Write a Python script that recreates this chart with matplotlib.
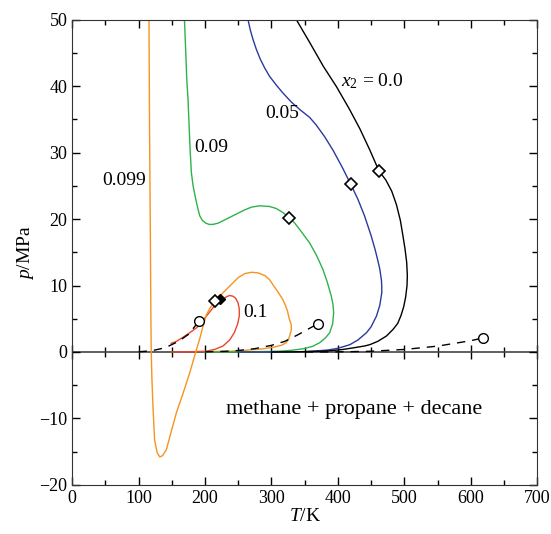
import numpy as np
import matplotlib
matplotlib.use("Agg")
import matplotlib.pyplot as plt

plt.rcParams['font.family'] = ['Liberation Serif', 'DejaVu Serif']
plt.rcParams['mathtext.fontset'] = 'custom'
plt.rcParams['mathtext.it'] = 'Liberation Serif:italic'
plt.rcParams['mathtext.rm'] = 'Liberation Serif'

# p-T curves for different x2
T_x0 = [300, 340, 372.6, 390, 407.6, 425, 440, 448, 460, 473, 483, 490, 495, 499, 502, 504,
        504.5, 503.5, 501, 498, 494, 488, 481, 472, 462, 448, 433, 417, 398, 378, 358, 337.5]
p_x0 = [0.0, 0.03, 0.1, 0.2, 0.38, 0.65, 0.9, 1.1, 1.6, 2.4, 3.4, 4.3, 5.5, 6.8, 8.3, 10.0,
        11.5, 13.5, 15.5, 17.4, 19.8, 22.2, 24.2, 25.9, 27.2, 30.4, 33.6, 36.6, 39.9, 43.0, 46.5, 50]

T_x05 = [250, 322, 350, 372.6, 385, 400, 418, 430, 443, 450, 458, 463, 466, 466, 465.5, 463,
         460, 456, 450, 440, 430, 419, 407, 393, 380, 367, 357.5, 342.5, 330, 317, 307, 297,
         290, 283, 277, 272, 268, 264.7]
p_x05 = [0.0, 0.0, 0.06, 0.2, 0.3, 0.55, 1.1, 1.8, 2.9, 3.8, 5.4, 7.0, 8.9, 9.8, 10.8, 12.5,
         13.8, 15.4, 17.5, 20.5, 23.0, 25.3, 27.7, 30.3, 32.4, 34.2, 35.3, 36.5, 37.6, 39.0, 40.2, 41.5,
         42.7, 44.1, 45.6, 47.1, 48.5, 50]

T_x09 = [200, 260, 290, 312, 330, 347.5, 362, 372.6, 381, 387.6, 392, 393.6, 392.5, 390, 384,
         377.5, 368, 357.5, 345, 335, 327, 317, 307, 297, 282, 270, 260, 250, 242, 230, 220, 212,
         206, 201, 196, 192, 189.4, 186, 182, 179.4, 177.5, 176, 174.4, 172.5, 171, 169]
p_x09 = [0.0, 0.03, 0.07, 0.12, 0.25, 0.48, 0.85, 1.4, 2.1, 2.9, 4.2, 5.9, 7.2, 8.4, 10.5,
         12.4, 14.5, 16.4, 18.1, 19.4, 20.2, 21.0, 21.6, 21.9, 22.0, 21.8, 21.4, 20.9, 20.5, 19.9, 19.4, 19.2,
         19.2, 19.4, 19.8, 20.5, 21.5, 23.0, 25.0, 27.0, 30.5, 34.0, 38.0, 41.0, 45.0, 50]

T_x099 = [200, 240, 262, 285, 302, 315, 322, 326, 329, 330, 329.5, 327, 324, 321, 317, 310, 303,
          297, 290, 280, 270, 260, 250, 237, 227, 217, 208, 202, 197, 192, 186, 177, 167, 157,
          149, 141.8, 136, 132, 128, 124, 121.6, 120, 119, 118.5, 117.7, 116.5, 115.6]
p_x099 = [0.05, 0.12, 0.27, 0.45, 0.7, 1.0, 1.4, 2.0, 3.0, 3.4, 4.2, 4.9, 6.2, 7.0, 7.9, 9.0, 10.0,
          10.9, 11.5, 11.9, 12.0, 11.8, 11.2, 9.9, 8.9, 7.8, 6.7, 5.6, 3.9, 2.0, 0.0, -3.1, -6.2, -9.1,
          -12.0, -14.7, -15.6, -15.8, -15.2, -13.2, -8.2, -4.0, 0.0, 5.0, 16.9, 33.0, 50]

T_x1 = [150, 180, 202, 215, 227, 237, 244, 249, 251.5, 251.5, 249.6, 246, 242, 237, 232, 227,
        217, 210, 202, 195, 188, 177, 165, 157, 149]
p_x1 = [0.0, 0.03, 0.12, 0.4, 0.9, 1.8, 2.9, 4.2, 5.4, 6.5, 7.4, 8.1, 8.4, 8.5, 8.3, 7.9,
        7.3, 6.4, 5.4, 4.5, 3.7, 2.9, 2.1, 1.6, 1.3]

# pure component vapour pressure curves (dashed) and critical points
T_ch4 = [100, 120, 140, 160, 175, 190.6]
p_ch4 = [0.03, 0.19, 0.64, 1.59, 2.65, 4.6]
T_c3 = [200, 230, 250, 275, 300, 320, 340, 369.8]
p_c3 = [0.02, 0.1, 0.22, 0.5, 1.0, 1.6, 2.6, 4.25]
T_c10 = [350, 400, 447, 500, 550, 600, 617.7]
p_c10 = [0.005, 0.02, 0.1, 0.38, 0.88, 1.7, 2.1]
Tc = [190.6, 369.8, 617.7]
pc = [4.6, 4.25, 2.1]

# mixture critical points (diamonds); x2 = 0.1 point is filled
T_crit = [462, 420, 327, 215]
p_crit = [27.2, 25.3, 20.2, 7.6]
T_crit1 = [223]
p_crit1 = [7.9]

fig = plt.figure(figsize=(5.51, 5.34), dpi=100)
ax = fig.add_axes([0.131, 0.092, 0.844, 0.871])

lw = 1.0
ax.plot(T_x1, p_x1, color='#e8452c', lw=lw)
ax.plot(T_x099, p_x099, color='#f7931e', lw=lw)
ax.plot(T_x09, p_x09, color='#2db34a', lw=lw)
ax.plot(T_x05, p_x05, color='#2b3a9a', lw=lw)
ax.plot(T_x0, p_x0, color='black', lw=lw)

for T, p in [(T_ch4, p_ch4), (T_c3, p_c3), (T_c10, p_c10)]:
    ax.plot(T, p, 'k--', lw=1.0, dashes=(6, 5))
ax.plot(Tc, pc, 'o', mfc='white', mec='black', ms=7, mew=1.0)
ax.plot(T_crit1, p_crit1, 'D', mfc='black', mec='black', ms=5.5)
ax.plot(T_crit, p_crit, 'D', mfc='white', mec='black', ms=6.5, mew=1.2)

ax.axhline(0, color='#444444', lw=1.2, zorder=0.5)

ax.set_xlim(0, 700)
ax.set_ylim(-20, 50)
ax.set_xticks(np.arange(0, 701, 100))
ax.set_xticks(np.arange(0, 701, 50), minor=True)
ax.set_yticks(np.arange(-20, 51, 10))
ax.set_yticks(np.arange(-20, 51, 5), minor=True)
ax.tick_params(which='both', direction='in', top=True, right=True, labelsize=13, width=1.0)
ax.tick_params(which='major', length=6)
ax.tick_params(which='minor', length=3.5)
for s in ax.spines.values():
    s.set_color('#333333')

# ticks on the p = 0 line
sec = ax.secondary_xaxis(20 / 70)
sec.set_xticks(np.arange(0, 701, 100))
sec.set_xticks(np.arange(0, 701, 50), minor=True)
sec.tick_params(which='both', direction='inout', labelbottom=False, width=1.0)
sec.tick_params(which='major', length=10)
sec.tick_params(which='minor', length=7)
sec.spines['bottom'].set_visible(False)

ax.set_xlabel('$T$/K', fontsize=14, labelpad=1)
ax.set_ylabel('$p$/MPa', fontsize=14, labelpad=2)

fs = 14
ax.text(404, 40.7, '$x_2$ = 0.0', fontsize=fs, va='center')
ax.text(290, 35.9, '0.05', fontsize=fs, va='center')
ax.text(184, 30.8, '0.09', fontsize=fs, va='center')
ax.text(45, 25.8, '0.099', fontsize=fs, va='center')
ax.text(258, 6.0, '0.1', fontsize=fs, va='center')
ax.text(425, -8.7, 'methane + propane + decane', fontsize=16, ha='center', va='center')

fig.savefig('out.png', dpi=100)
